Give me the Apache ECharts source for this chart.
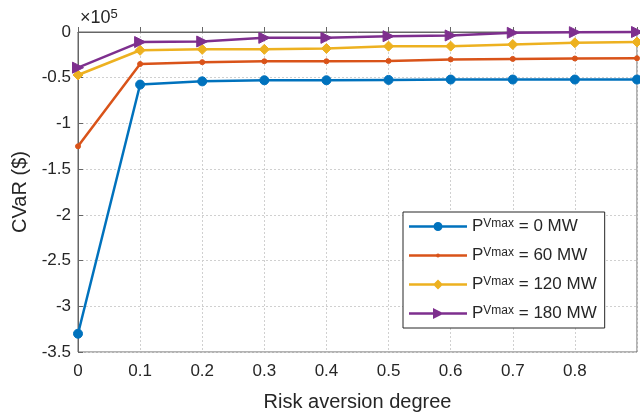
<!DOCTYPE html>
<html>
<head>
<meta charset="utf-8">
<script src="https://cdn.jsdelivr.net/npm/echarts@6/dist/echarts.min.js"></script>
<style>html,body{margin:0;padding:0;background:#fff}#c{width:640px;height:417px}</style>
</head>
<body>
<div id="c"></div>
<script>
var riskDegree = [0, 0.1, 0.2, 0.3, 0.4, 0.5, 0.6, 0.7, 0.8, 0.9];
var cvar0MW   = [-330000, -57500, -54000, -52800, -52800, -52400, -52000, -52000, -52000, -52000];
var cvar60MW  = [-125000, -35000, -33000, -32000, -32000, -31600, -30000, -29400, -29000, -28700];
var cvar120MW = [-47000, -20000, -19000, -19000, -18000, -15500, -15500, -13700, -11800, -11000];
var cvar180MW = [-39000, -11000, -10400, -6400, -6400, -4600, -3800, -900, -200, 0];
var seriesNames = ['0 MW', '60 MW', '120 MW', '180 MW'];
var yTickLabels = ['0', '-0.5', '-1', '-1.5', '-2', '-2.5', '-3', '-3.5'];

function pairs(arr) { return riskDegree.map(function (x, i) { return [x, arr[i]]; }); }

var font = "'Liberation Sans', Arial, Helvetica, sans-serif";
var chart = echarts.init(document.getElementById('c'));
var colors = ['#0072BD', '#D95319', '#EDB120', '#7E2F8E'];
var symbols = ['circle', 'circle', 'diamond', 'path://M0,0 L10,5 L0,10 Z'];
var sizes = [9, 5, 10, 11];
// legend icons: line sample + marker, in a 58x12 box
var lineRect = 'M0,0 M58,12 M0,4.8 L58,4.8 L58,7.2 L0,7.2 Z ';
var legendIcons = [
  'path://' + lineRect + 'M24.5,6 A4.5,4.5 0 1 1 33.5,6 A4.5,4.5 0 1 1 24.5,6 Z',
  'path://' + lineRect + 'M27,6 A2,2 0 1 1 31,6 A2,2 0 1 1 27,6 Z',
  'path://' + lineRect + 'M29,1 L34,6 L29,11 L24,6 Z',
  'path://' + lineRect + 'M24,0.5 L35,6 L24,11.5 Z'
];
var datas = [cvar0MW, cvar60MW, cvar120MW, cvar180MW];

chart.setOption({
  animation: false,
  textStyle: { fontFamily: font },
  grid: { left: 78, right: 2, top: 32, bottom: 65, show: true, borderColor: '#666', borderWidth: 1, backgroundColor: '#fff' },
  xAxis: {
    type: 'value', min: 0, max: 0.9, interval: 0.1,
    name: 'Risk aversion degree', nameLocation: 'middle', nameGap: 40,
    nameTextStyle: { fontSize: 20, color: '#262626', fontFamily: font },
    axisLine: { lineStyle: { color: '#666' } },
    axisTick: { inside: true, length: 5, lineStyle: { color: '#666' } },
    axisLabel: { fontSize: 17, color: '#262626', margin: 11, fontFamily: font,
      formatter: function (v) { var r = parseFloat(v.toFixed(1)); return r >= 0.9 ? '' : String(r); } },
    splitLine: { show: true, lineStyle: { color: '#d0d0d0', type: [2, 2] } }
  },
  yAxis: {
    type: 'value', min: -350000, max: 0, interval: 50000,
    name: 'CVaR ($)', nameLocation: 'middle', nameGap: 43,
    nameTextStyle: { fontSize: 20, color: '#262626', fontFamily: font },
    axisLine: { show: true, lineStyle: { color: '#666' } },
    axisTick: { show: true, inside: true, length: 5, lineStyle: { color: '#666' } },
    axisLabel: { fontSize: 17, color: '#262626', margin: 7, fontFamily: font,
      formatter: function (v) { var idx = Math.round(-v / 50000); return yTickLabels[idx]; } },
    splitLine: { show: true, lineStyle: { color: '#d0d0d0', type: [2, 2] } }
  },
  legend: {
    orient: 'vertical', left: 403, top: 212,
    backgroundColor: '#fff', borderColor: '#262626', borderWidth: 1,
    padding: [6, 8, 6, 6], itemWidth: 58, itemHeight: 12, itemGap: 12,
    formatter: function (n) { return 'P{sup|Vmax} = ' + n; },
    textStyle: { fontSize: 17, color: '#262626', fontFamily: font, lineHeight: 17,
      rich: { sup: { fontSize: 12, verticalAlign: 'top', padding: [0, 0, 10, 0], color: '#262626', fontFamily: font } } },
    data: seriesNames.map(function (n, i) { return { name: n, icon: legendIcons[i] }; })
  },
  graphic: [{
    type: 'text', left: 80, top: 8,
    style: { text: '×10{s|5}', font: '18px ' + font, fill: '#262626',
      rich: { s: { fontSize: 13, fontFamily: font, verticalAlign: 'top', padding: [0, 0, 8, 0], fill: '#262626' } } }
  }],
  series: seriesNames.map(function (n, i) {
    return {
      name: n, type: 'line', data: pairs(datas[i]),
      symbol: symbols[i], symbolSize: sizes[i], showAllSymbol: true,
      lineStyle: { color: colors[i], width: 2.5 },
      itemStyle: { color: colors[i], borderColor: colors[i] },
      clip: false, z: 2 + i
    };
  })
});
</script>
</body>
</html>
